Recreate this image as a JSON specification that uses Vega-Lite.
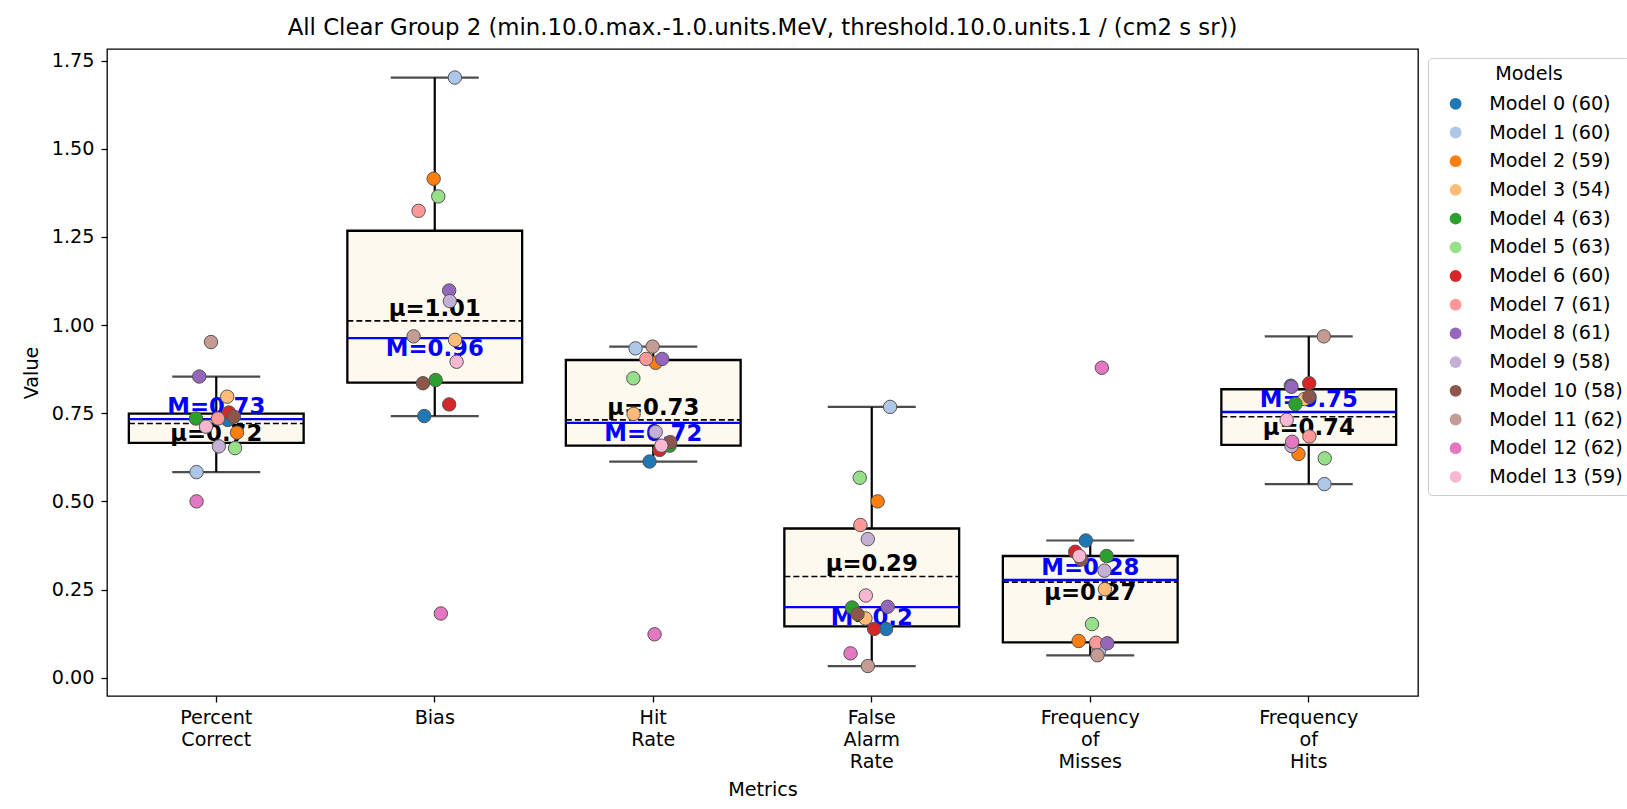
{
  "$schema": "https://vega.github.io/schema/vega-lite/v6.json",
  "width": 1311,
  "height": 647,
  "autosize": {"type": "none"},
  "padding": {"left": 107, "top": 49, "right": 209, "bottom": 113},
  "background": "white",
  "title": {
    "text": "All Clear Group 2 (min.10.0.max.-1.0.units.MeV, threshold.10.0.units.1 / (cm2 s sr))",
    "fontSize": 22.8,
    "fontWeight": "normal",
    "color": "black",
    "anchor": "middle",
    "offset": 9
  },
  "config": {
    "font": "DejaVu Sans",
    "view": {"stroke": "black", "strokeWidth": 1.3},
    "axis": {
      "grid": false,
      "domain": false,
      "labelFontSize": 19.2,
      "labelColor": "black",
      "tickColor": "black",
      "tickSize": 6,
      "tickWidth": 1.3,
      "titleFontSize": 19.2,
      "titleFontWeight": "normal",
      "titleColor": "black"
    }
  },
  "datasets": {
    "stats": [
      {"metric": "Percent Correct", "q1": 0.666, "q3": 0.749, "median": 0.733, "mean": 0.721, "lo": 0.583, "hi": 0.854},
      {"metric": "Bias", "q1": 0.837, "q3": 1.2675, "median": 0.963, "mean": 1.012, "lo": 0.742, "hi": 1.702},
      {"metric": "Hit Rate", "q1": 0.658, "q3": 0.901, "median": 0.7225, "mean": 0.731, "lo": 0.613, "hi": 0.939},
      {"metric": "False Alarm Rate", "q1": 0.1455, "q3": 0.423, "median": 0.2, "mean": 0.287, "lo": 0.033, "hi": 0.768},
      {"metric": "Frequency of Misses", "q1": 0.1, "q3": 0.345, "median": 0.277, "mean": 0.271, "lo": 0.0635, "hi": 0.389},
      {"metric": "Frequency of Hits", "q1": 0.66, "q3": 0.818, "median": 0.7535, "mean": 0.74, "lo": 0.549, "hi": 0.968}
    ],
    "points": [
      {"metric": "Percent Correct", "model": "Model 0 (60)", "value": 0.731, "jitter": 0.053},
      {"metric": "Percent Correct", "model": "Model 1 (60)", "value": 0.583, "jitter": -0.09},
      {"metric": "Percent Correct", "model": "Model 2 (59)", "value": 0.695, "jitter": 0.095},
      {"metric": "Percent Correct", "model": "Model 3 (54)", "value": 0.797, "jitter": 0.05},
      {"metric": "Percent Correct", "model": "Model 4 (63)", "value": 0.735, "jitter": -0.093},
      {"metric": "Percent Correct", "model": "Model 5 (63)", "value": 0.651, "jitter": 0.086},
      {"metric": "Percent Correct", "model": "Model 6 (60)", "value": 0.752, "jitter": 0.058},
      {"metric": "Percent Correct", "model": "Model 7 (61)", "value": 0.735, "jitter": 0.008},
      {"metric": "Percent Correct", "model": "Model 8 (61)", "value": 0.854, "jitter": -0.078},
      {"metric": "Percent Correct", "model": "Model 9 (58)", "value": 0.656, "jitter": 0.012},
      {"metric": "Percent Correct", "model": "Model 10 (58)", "value": 0.74, "jitter": 0.081},
      {"metric": "Percent Correct", "model": "Model 11 (62)", "value": 0.952, "jitter": -0.024},
      {"metric": "Percent Correct", "model": "Model 12 (62)", "value": 0.5, "jitter": -0.09},
      {"metric": "Percent Correct", "model": "Model 13 (59)", "value": 0.712, "jitter": -0.047},
      {"metric": "Bias", "model": "Model 0 (60)", "value": 0.742, "jitter": -0.048},
      {"metric": "Bias", "model": "Model 1 (60)", "value": 1.702, "jitter": 0.092},
      {"metric": "Bias", "model": "Model 2 (59)", "value": 1.415, "jitter": -0.005},
      {"metric": "Bias", "model": "Model 3 (54)", "value": 0.958, "jitter": 0.093},
      {"metric": "Bias", "model": "Model 4 (63)", "value": 0.844, "jitter": 0.004},
      {"metric": "Bias", "model": "Model 5 (63)", "value": 1.365, "jitter": 0.016},
      {"metric": "Bias", "model": "Model 6 (60)", "value": 0.775, "jitter": 0.066},
      {"metric": "Bias", "model": "Model 7 (61)", "value": 1.324, "jitter": -0.074},
      {"metric": "Bias", "model": "Model 8 (61)", "value": 1.098, "jitter": 0.066},
      {"metric": "Bias", "model": "Model 9 (58)", "value": 1.068, "jitter": 0.069},
      {"metric": "Bias", "model": "Model 10 (58)", "value": 0.835, "jitter": -0.054},
      {"metric": "Bias", "model": "Model 11 (62)", "value": 0.968, "jitter": -0.097},
      {"metric": "Bias", "model": "Model 12 (62)", "value": 0.182, "jitter": 0.028},
      {"metric": "Bias", "model": "Model 13 (59)", "value": 0.896, "jitter": 0.1},
      {"metric": "Hit Rate", "model": "Model 0 (60)", "value": 0.613, "jitter": -0.017},
      {"metric": "Hit Rate", "model": "Model 1 (60)", "value": 0.934, "jitter": -0.081},
      {"metric": "Hit Rate", "model": "Model 2 (59)", "value": 0.893, "jitter": 0.011},
      {"metric": "Hit Rate", "model": "Model 3 (54)", "value": 0.748, "jitter": -0.09},
      {"metric": "Hit Rate", "model": "Model 4 (63)", "value": 0.658, "jitter": 0.075},
      {"metric": "Hit Rate", "model": "Model 5 (63)", "value": 0.849, "jitter": -0.091},
      {"metric": "Hit Rate", "model": "Model 6 (60)", "value": 0.646, "jitter": 0.029},
      {"metric": "Hit Rate", "model": "Model 7 (61)", "value": 0.904, "jitter": -0.032},
      {"metric": "Hit Rate", "model": "Model 8 (61)", "value": 0.904, "jitter": 0.041},
      {"metric": "Hit Rate", "model": "Model 9 (58)", "value": 0.697, "jitter": 0.011},
      {"metric": "Hit Rate", "model": "Model 10 (58)", "value": 0.668, "jitter": 0.078},
      {"metric": "Hit Rate", "model": "Model 11 (62)", "value": 0.939, "jitter": -0.003},
      {"metric": "Hit Rate", "model": "Model 12 (62)", "value": 0.123, "jitter": 0.006},
      {"metric": "Hit Rate", "model": "Model 13 (59)", "value": 0.658, "jitter": 0.037},
      {"metric": "False Alarm Rate", "model": "Model 0 (60)", "value": 0.138, "jitter": 0.066},
      {"metric": "False Alarm Rate", "model": "Model 1 (60)", "value": 0.768, "jitter": 0.084},
      {"metric": "False Alarm Rate", "model": "Model 2 (59)", "value": 0.5, "jitter": 0.027},
      {"metric": "False Alarm Rate", "model": "Model 3 (54)", "value": 0.168, "jitter": -0.029},
      {"metric": "False Alarm Rate", "model": "Model 4 (63)", "value": 0.199, "jitter": -0.09},
      {"metric": "False Alarm Rate", "model": "Model 5 (63)", "value": 0.567, "jitter": -0.055},
      {"metric": "False Alarm Rate", "model": "Model 6 (60)", "value": 0.138, "jitter": 0.011},
      {"metric": "False Alarm Rate", "model": "Model 7 (61)", "value": 0.433, "jitter": -0.052},
      {"metric": "False Alarm Rate", "model": "Model 8 (61)", "value": 0.201, "jitter": 0.073},
      {"metric": "False Alarm Rate", "model": "Model 9 (58)", "value": 0.393, "jitter": -0.018},
      {"metric": "False Alarm Rate", "model": "Model 10 (58)", "value": 0.18, "jitter": -0.065},
      {"metric": "False Alarm Rate", "model": "Model 11 (62)", "value": 0.033, "jitter": -0.018},
      {"metric": "False Alarm Rate", "model": "Model 12 (62)", "value": 0.069, "jitter": -0.097},
      {"metric": "False Alarm Rate", "model": "Model 13 (59)", "value": 0.233, "jitter": -0.027},
      {"metric": "Frequency of Misses", "model": "Model 0 (60)", "value": 0.389, "jitter": -0.02},
      {"metric": "Frequency of Misses", "model": "Model 1 (60)", "value": 0.078, "jitter": 0.041},
      {"metric": "Frequency of Misses", "model": "Model 2 (59)", "value": 0.104, "jitter": -0.053},
      {"metric": "Frequency of Misses", "model": "Model 3 (54)", "value": 0.251, "jitter": 0.067},
      {"metric": "Frequency of Misses", "model": "Model 4 (63)", "value": 0.345, "jitter": 0.075},
      {"metric": "Frequency of Misses", "model": "Model 5 (63)", "value": 0.152, "jitter": 0.008},
      {"metric": "Frequency of Misses", "model": "Model 6 (60)", "value": 0.357, "jitter": -0.069},
      {"metric": "Frequency of Misses", "model": "Model 7 (61)", "value": 0.099, "jitter": 0.027},
      {"metric": "Frequency of Misses", "model": "Model 8 (61)", "value": 0.0975, "jitter": 0.078},
      {"metric": "Frequency of Misses", "model": "Model 9 (58)", "value": 0.3035, "jitter": 0.065},
      {"metric": "Frequency of Misses", "model": "Model 10 (58)", "value": 0.335, "jitter": -0.041},
      {"metric": "Frequency of Misses", "model": "Model 11 (62)", "value": 0.0635, "jitter": 0.033},
      {"metric": "Frequency of Misses", "model": "Model 12 (62)", "value": 0.879, "jitter": 0.053},
      {"metric": "Frequency of Misses", "model": "Model 13 (59)", "value": 0.345, "jitter": -0.05},
      {"metric": "Frequency of Hits", "model": "Model 0 (60)", "value": 0.828, "jitter": -0.082},
      {"metric": "Frequency of Hits", "model": "Model 1 (60)", "value": 0.549, "jitter": 0.072},
      {"metric": "Frequency of Hits", "model": "Model 2 (59)", "value": 0.6345, "jitter": -0.047},
      {"metric": "Frequency of Hits", "model": "Model 3 (54)", "value": 0.79, "jitter": -0.02},
      {"metric": "Frequency of Hits", "model": "Model 4 (63)", "value": 0.776, "jitter": -0.061},
      {"metric": "Frequency of Hits", "model": "Model 5 (63)", "value": 0.622, "jitter": 0.073},
      {"metric": "Frequency of Hits", "model": "Model 6 (60)", "value": 0.835, "jitter": 0.002},
      {"metric": "Frequency of Hits", "model": "Model 7 (61)", "value": 0.684, "jitter": 0.003},
      {"metric": "Frequency of Hits", "model": "Model 8 (61)", "value": 0.825, "jitter": -0.079},
      {"metric": "Frequency of Hits", "model": "Model 9 (58)", "value": 0.657, "jitter": -0.079},
      {"metric": "Frequency of Hits", "model": "Model 10 (58)", "value": 0.797, "jitter": 0.003},
      {"metric": "Frequency of Hits", "model": "Model 11 (62)", "value": 0.968, "jitter": 0.069},
      {"metric": "Frequency of Hits", "model": "Model 12 (62)", "value": 0.669, "jitter": -0.076},
      {"metric": "Frequency of Hits", "model": "Model 13 (59)", "value": 0.731, "jitter": -0.101}
    ]
  },
  "encoding": {
    "x": {
      "field": "metric",
      "type": "nominal",
      "title": "Metrics",
      "scale": {
        "domain": ["Percent Correct", "Bias", "Hit Rate", "False Alarm Rate", "Frequency of Misses", "Frequency of Hits"],
        "paddingInner": 0,
        "paddingOuter": 0
      },
      "axis": {
        "labelAngle": 0,
        "labelExpr": "split(datum.label, ' ')",
        "labelLineHeight": 22,
        "labelPadding": 6,
        "labelBaseline": "top",
        "titlePadding": 9
      }
    }
  },
  "layer": [
    {
      "data": {"name": "stats"},
      "mark": {"type": "rule", "color": "black", "strokeWidth": 2.2},
      "encoding": {
        "y": {
          "field": "lo",
          "type": "quantitative",
          "title": "Value",
          "scale": {"domain": [-0.052, 1.783], "nice": false, "zero": false},
          "axis": {
            "values": [0, 0.25, 0.5, 0.75, 1, 1.25, 1.5, 1.75],
            "format": ".2f",
            "labelPadding": 7,
            "titlePadding": 10
          }
        },
        "y2": {"field": "hi"}
      }
    },
    {
      "data": {"name": "stats"},
      "mark": {"type": "tick", "color": "black", "size": 88, "thickness": 2.2, "orient": "horizontal"},
      "encoding": {"y": {"field": "lo", "type": "quantitative", "title": "Value"}}
    },
    {
      "data": {"name": "stats"},
      "mark": {"type": "tick", "color": "black", "size": 88, "thickness": 2.2, "orient": "horizontal"},
      "encoding": {"y": {"field": "hi", "type": "quantitative", "title": "Value"}}
    },
    {
      "data": {"name": "stats"},
      "mark": {"type": "rect", "fill": "#fdf9ef", "stroke": "black", "strokeWidth": 2.3},
      "encoding": {
        "x": {"field": "metric", "type": "nominal", "bandPosition": 0.1},
        "x2": {"field": "metric", "bandPosition": 0.9},
        "y": {"field": "q1", "type": "quantitative", "title": "Value"},
        "y2": {"field": "q3"}
      }
    },
    {
      "data": {"name": "stats"},
      "mark": {"type": "rule", "color": "blue", "strokeWidth": 2.3},
      "encoding": {
        "x": {"field": "metric", "type": "nominal", "bandPosition": 0.1},
        "x2": {"field": "metric", "bandPosition": 0.9},
        "y": {"field": "median", "type": "quantitative", "title": "Value"}
      }
    },
    {
      "data": {"name": "stats"},
      "mark": {"type": "rule", "color": "black", "strokeWidth": 1.6, "strokeDash": [6, 3]},
      "encoding": {
        "x": {"field": "metric", "type": "nominal", "bandPosition": 0.1},
        "x2": {"field": "metric", "bandPosition": 0.9},
        "y": {"field": "mean", "type": "quantitative", "title": "Value"}
      }
    },
    {
      "data": {"name": "stats"},
      "transform": [
        {"filter": "datum.mean >= datum.median"},
        {"calculate": "'μ=' + format(datum.mean, '.2~f')", "as": "label"}
      ],
      "mark": {"type": "text", "baseline": "bottom", "fontSize": 22.8, "fontWeight": "bold", "color": "black"},
      "encoding": {
        "y": {"field": "mean", "type": "quantitative", "title": "Value"},
        "text": {"field": "label"}
      }
    },
    {
      "data": {"name": "stats"},
      "transform": [
        {"filter": "datum.mean < datum.median"},
        {"calculate": "'μ=' + format(datum.mean, '.2~f')", "as": "label"}
      ],
      "mark": {"type": "text", "baseline": "top", "fontSize": 22.8, "fontWeight": "bold", "color": "black"},
      "encoding": {
        "y": {"field": "mean", "type": "quantitative", "title": "Value"},
        "text": {"field": "label"}
      }
    },
    {
      "data": {"name": "stats"},
      "transform": [
        {"filter": "datum.median > datum.mean"},
        {"calculate": "'M=' + format(datum.median, '.2~f')", "as": "label"}
      ],
      "mark": {"type": "text", "baseline": "bottom", "fontSize": 22.8, "fontWeight": "bold", "color": "blue"},
      "encoding": {
        "y": {"field": "median", "type": "quantitative", "title": "Value"},
        "text": {"field": "label"}
      }
    },
    {
      "data": {"name": "stats"},
      "transform": [
        {"filter": "datum.median <= datum.mean"},
        {"calculate": "'M=' + format(datum.median, '.2~f')", "as": "label"}
      ],
      "mark": {"type": "text", "baseline": "top", "fontSize": 22.8, "fontWeight": "bold", "color": "blue"},
      "encoding": {
        "y": {"field": "median", "type": "quantitative", "title": "Value"},
        "text": {"field": "label"}
      }
    },
    {
      "data": {"name": "points"},
      "mark": {"type": "point", "shape": "circle", "filled": true, "size": 180, "opacity": 1, "stroke": "#555555", "strokeWidth": 1},
      "encoding": {
        "xOffset": {"field": "jitter", "type": "quantitative", "scale": {"domain": [-0.5, 0.5], "range": [0, 218.5]}},
        "y": {"field": "value", "type": "quantitative", "title": "Value"},
        "color": {
          "field": "model",
          "type": "nominal",
          "scale": {
            "domain": ["Model 0 (60)", "Model 1 (60)", "Model 2 (59)", "Model 3 (54)", "Model 4 (63)", "Model 5 (63)", "Model 6 (60)", "Model 7 (61)", "Model 8 (61)", "Model 9 (58)", "Model 10 (58)", "Model 11 (62)", "Model 12 (62)", "Model 13 (59)"],
            "range": ["#1f77b4", "#aec7e8", "#ff7f0e", "#ffbb78", "#2ca02c", "#98df8a", "#d62728", "#ff9896", "#9467bd", "#c5b0d5", "#8c564b", "#c49c94", "#e377c2", "#f7b6d2"]
          },
          "legend": {
            "title": "Models",
            "orient": "none",
            "legendX": 1321,
            "legendY": 9,
            "symbolType": "circle",
            "symbolSize": 140,
            "symbolStrokeWidth": 0,
            "symbolOpacity": 1,
            "labelFontSize": 19.2,
            "labelColor": "black",
            "labelLimit": 300,
            "titleFontSize": 19.2,
            "titleFontWeight": "normal",
            "titleColor": "black",
            "titleAnchor": "middle",
            "titlePadding": 10,
            "padding": 7,
            "rowPadding": 8.7,
            "symbolOffset": 11,
            "labelOffset": 24,
            "strokeColor": "#cccccc",
            "fillColor": "white",
            "cornerRadius": 4
          }
        }
      }
    }
  ]
}
